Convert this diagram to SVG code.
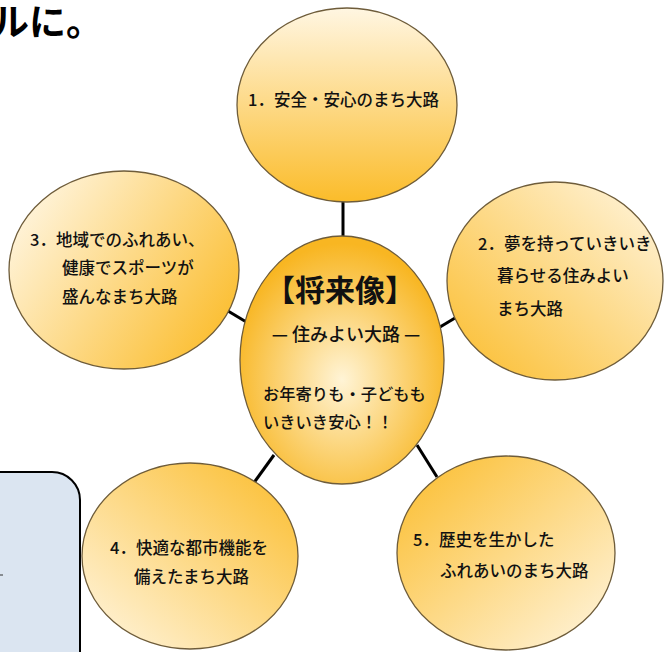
<svg xmlns="http://www.w3.org/2000/svg" width="666" height="652" viewBox="0 0 666 652">
<style>
.bubble{stroke:#6e5c3a;stroke-width:1.3}
.t{font-family:"Noto Sans CJK JP","Noto Sans",sans-serif;fill:#111;font-size:16.5px;font-weight:500}
.conn line{stroke:#000;stroke-width:3}
</style>
<defs>
<linearGradient id="g1" x1="0" y1="0" x2="0" y2="1"><stop offset="0" stop-color="#fff6e2"/><stop offset="1" stop-color="#fbbc2a"/></linearGradient>
<linearGradient id="g2" x1="1" y1="0" x2="0" y2="1"><stop offset="0" stop-color="#fff6e2"/><stop offset="1" stop-color="#fbbc2a"/></linearGradient>
<linearGradient id="g3" x1="0" y1="0.2" x2="1" y2="0.8"><stop offset="0" stop-color="#fff6e2"/><stop offset="1" stop-color="#fbbc2a"/></linearGradient>
<linearGradient id="g4" x1="0" y1="1" x2="1" y2="0"><stop offset="0" stop-color="#fff6e2"/><stop offset="1" stop-color="#fbbc2a"/></linearGradient>
<linearGradient id="g5" x1="1" y1="1" x2="0" y2="0"><stop offset="0" stop-color="#fff6e2"/><stop offset="1" stop-color="#fbbc2a"/></linearGradient>
<radialGradient id="gc" cx="0.5" cy="0.58" r="0.55"><stop offset="0" stop-color="#fff4d6"/><stop offset="1" stop-color="#f8b622"/></radialGradient>
</defs>
<rect width="666" height="652" fill="#fff"/>
<text x="-8" y="36" style="font-family:'Noto Sans CJK JP',sans-serif;font-size:37px;font-weight:700" fill="#000">ルに。</text>
<g id="note-box">
<rect x="-30" y="472" width="110" height="230" rx="28" fill="#dbe5f1" stroke="#000" stroke-width="2"/>
<line x1="0" y1="575" x2="3" y2="575" stroke="#333" stroke-width="1"/>
</g>
<g class="conn" id="connectors">
<line x1="343" y1="202" x2="343" y2="238"/>
<line x1="440" y1="327" x2="465" y2="312"/>
<line x1="218" y1="305" x2="248" y2="323"/>
<line x1="253" y1="484" x2="274" y2="455"/>
<line x1="417" y1="445" x2="437" y2="477"/>
</g>
<g id="n1">
<ellipse class="bubble" cx="347" cy="105" rx="110" ry="97" fill="url(#g1)"/>
<text class="t" x="248" y="106">1．安全・安心のまち大路</text>
</g>
<g id="n2">
<ellipse class="bubble" cx="555" cy="281" rx="108" ry="99" fill="url(#g2)"/>
<text class="t" x="478" y="250">2．夢を持っていきいき</text>
<text class="t" x="497" y="282">暮らせる住みよい</text>
<text class="t" x="497" y="315">まち大路</text>
</g>
<g id="n3">
<ellipse class="bubble" cx="124" cy="270" rx="115" ry="99" fill="url(#g3)"/>
<text class="t" x="30" y="246">3．地域でのふれあい、</text>
<text class="t" x="62" y="274">健康でスポーツが</text>
<text class="t" x="62" y="303">盛んなまち大路</text>
</g>
<g id="n4">
<ellipse class="bubble" cx="190" cy="556" rx="108" ry="93" fill="url(#g4)"/>
<text class="t" x="110" y="554">4．快適な都市機能を</text>
<text class="t" x="134" y="583">備えたまち大路</text>
</g>
<g id="n5">
<ellipse class="bubble" cx="506" cy="553" rx="109" ry="97" fill="url(#g5)"/>
<text class="t" x="413" y="546">5．歴史を生かした</text>
<text class="t" x="440" y="577">ふれあいのまち大路</text>
</g>
<g id="center">
<ellipse class="bubble" cx="342" cy="360" rx="102" ry="124" fill="url(#gc)"/>
<text x="340" y="301" text-anchor="middle" style="font-family:'Noto Sans CJK JP',sans-serif;font-size:30px;font-weight:700" fill="#111">【将来像】</text>
<text x="346" y="341" text-anchor="middle" style="font-family:'Noto Sans CJK JP',sans-serif;font-size:18px;font-weight:500" fill="#111">—  住みよい大路  —</text>
<text class="t" x="263" y="400" style="font-size:16.3px">お年寄りも・子どもも</text>
<text class="t" x="263" y="428" style="font-size:16.3px">いきいき安心！！</text>
</g>
</svg>
